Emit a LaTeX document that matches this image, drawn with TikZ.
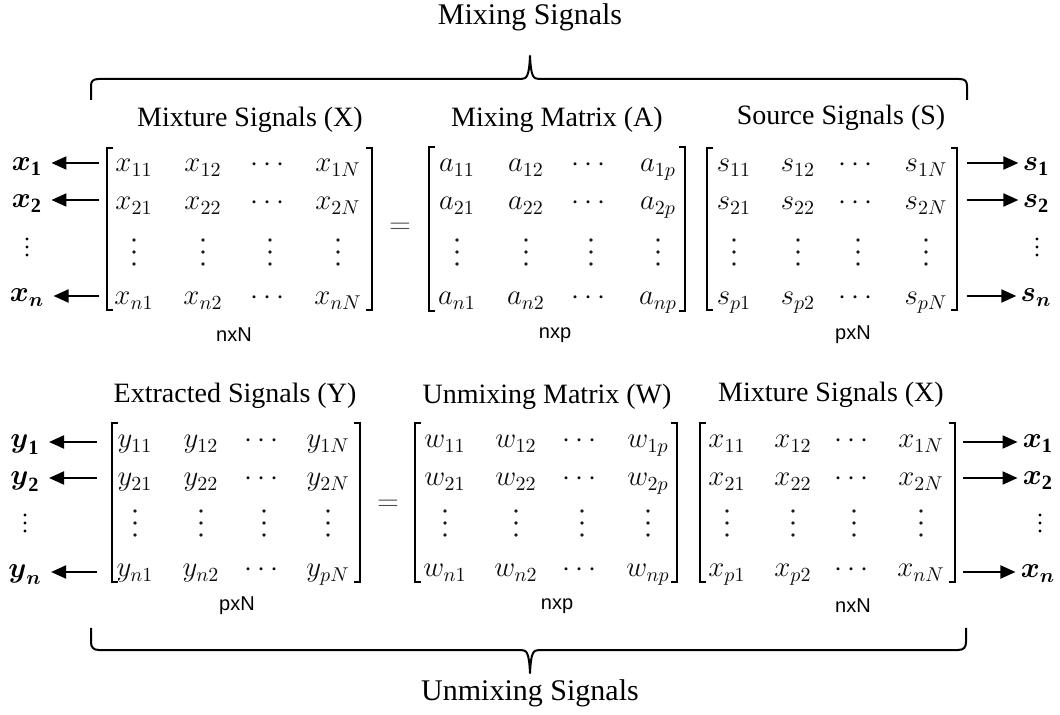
\documentclass[tikz,border=0pt]{standalone}
\usepackage{amsmath}
\usepackage{fontspec}
\setmainfont{Liberation Serif}
\newfontfamily\dimfont{Liberation Sans}
\usetikzlibrary{arrows.meta}

\tikzset{
  heading/.style={font=\fontsize{15}{18}\selectfont, inner sep=0pt},
  mtitle/.style={font=\fontsize{14}{17}\selectfont, inner sep=0pt},
  ent/.style={font=\fontsize{14}{17}\selectfont, text=black!95, inner sep=0pt, anchor=base},
  dimlbl/.style={font=\dimfont\fontsize{10}{12}\selectfont, inner sep=0pt},
  sig/.style={font=\fontsize{14.5}{17}\selectfont, inner xsep=0pt, inner ysep=0pt, anchor=base},
  brk/.style={line width=0.8pt},
  brace/.style={line width=1pt, line join=round},
  arr/.style={line width=1pt, -{Triangle[length=7.5pt,width=6.5pt]}},
  eqsign/.style={font=\fontsize{14}{17}\selectfont, text=black!70, inner sep=0pt},
  % vertical ellipsis inside the matrices
  vdts/.pic={\fill[black!90] (0,-12) circle[radius=0.9pt] (0,0) circle[radius=0.9pt] (0,12) circle[radius=0.9pt];},
  % smaller vertical ellipsis beside the signal labels
  vdtsside/.pic={\fill (0,-8) circle[radius=0.8pt] (0,0) circle[radius=0.8pt] (0,8) circle[radius=0.8pt];}
}

\begin{document}
\begin{tikzpicture}[x=0.5pt, y=-0.5pt]
\useasboundingbox (0,0) rectangle (1060,715);

% ---------- top: mixing ----------
\node[heading] (mixT) at (530,17) {Mixing Signals};
\draw[brace] (91,100) -- (91,86) .. controls (91,81) and (93,79) .. (99,79)
  -- (521,79) .. controls (527,79) and (529,76) .. (530,56)
  .. controls (531,76) and (533,79) .. (539,79)
  -- (959,79) .. controls (965,79) and (967,81) .. (967,86) -- (967,100);

% matrix X (mixtures)
\node[mtitle] (tX) at (250,120) {Mixture Signals (X)};
\draw[brk] (113,148) -- (107,148) -- (107,310) -- (113,310);
\draw[brk] (366,148) -- (372,148) -- (372,310) -- (366,310);
\foreach \c/\e [count=\j] in {134/x_{11},203/x_{12},270/\cdots,338/x_{1N}}
  \node[ent] (X-1-\j) at (\c,172) {$\e$};
\foreach \c/\e [count=\j] in {134/x_{21},203/x_{22},270/\cdots,338/x_{2N}}
  \node[ent] (X-2-\j) at (\c,210) {$\e$};
\foreach \c [count=\j] in {134,203,270,338}
  \pic (X-3-\j) at (\c,252) {vdts};
\foreach \c/\e [count=\j] in {134/x_{n1},203/x_{n2},270/\cdots,338/x_{nN}}
  \node[ent] (X-4-\j) at (\c,305) {$\e$};
\node[dimlbl] (dX) at (234,335) {nxN};

\node[sig] (lx1) at (27,171) {$\boldsymbol{x}_{\mathbf{1}}$};
\node[sig] (lx2) at (27,208) {$\boldsymbol{x}_{\mathbf{2}}$};
\pic (lxd) at (27,247) {vdtsside};
\node[sig] (lxn) at (27,302) {$\boldsymbol{x}_{\boldsymbol{n}}$};
\coordinate (ax1) at (99,163);
\coordinate (ax2) at (99,200);
\coordinate (axn) at (99,296);
\draw[arr] (ax1) -- ([xshift=4.5pt]ax1 -| lx1.east);
\draw[arr] (ax2) -- ([xshift=4.5pt]ax2 -| lx2.east);
\draw[arr] (axn) -- ([xshift=4.5pt]axn -| lxn.east);

\node[eqsign] (eq1) at (400,228) {$=$};

% matrix A (mixing)
\node[mtitle] (tA) at (557,120) {Mixing Matrix (A)};
\draw[brk] (435,147) -- (429,147) -- (429,311) -- (435,311);
\draw[brk] (679,147) -- (685,147) -- (685,311) -- (679,311);
\foreach \c/\e [count=\j] in {457/a_{11},526/a_{12},591/\cdots,658/a_{1p}}
  \node[ent] (A-1-\j) at (\c,172) {$\e$};
\foreach \c/\e [count=\j] in {457/a_{21},526/a_{22},591/\cdots,658/a_{2p}}
  \node[ent] (A-2-\j) at (\c,210) {$\e$};
\foreach \c [count=\j] in {457,526,591,658}
  \pic (A-3-\j) at (\c,252) {vdts};
\foreach \c/\e [count=\j] in {457/a_{n1},526/a_{n2},591/\cdots,658/a_{np}}
  \node[ent] (A-4-\j) at (\c,305) {$\e$};
\node[dimlbl] (dA) at (555,335) {nxp};

% matrix S (sources)
\node[mtitle] (tS) at (841,118) {Source Signals (S)};
\draw[brk] (713,148) -- (707,148) -- (707,310) -- (713,310);
\draw[brk] (951,148) -- (957,148) -- (957,310) -- (951,310);
\foreach \c/\e [count=\j] in {734/s_{11},798/s_{12},858/\cdots,926/s_{1N}}
  \node[ent] (S-1-\j) at (\c,172) {$\e$};
\foreach \c/\e [count=\j] in {734/s_{21},798/s_{22},858/\cdots,926/s_{2N}}
  \node[ent] (S-2-\j) at (\c,210) {$\e$};
\foreach \c [count=\j] in {734,798,858,926}
  \pic (S-3-\j) at (\c,252) {vdts};
\foreach \c/\e [count=\j] in {734/s_{p1},798/s_{p2},858/\cdots,926/s_{pN}}
  \node[ent] (S-4-\j) at (\c,305) {$\e$};
\node[dimlbl] (dS) at (853,335) {pxN};

\node[sig] (ls1) at (1036,171) {$\boldsymbol{s}_{\mathbf{1}}$};
\node[sig] (ls2) at (1036,208) {$\boldsymbol{s}_{\mathbf{2}}$};
\pic (lsd) at (1037,247) {vdtsside};
\node[sig] (lsn) at (1036,302) {$\boldsymbol{s}_{\boldsymbol{n}}$};
\coordinate (as1) at (967,163);
\coordinate (as2) at (967,200);
\coordinate (asn) at (967,296);
\draw[arr] (as1) -- ([xshift=-2pt]as1 -| ls1.west);
\draw[arr] (as2) -- ([xshift=-2pt]as2 -| ls2.west);
\draw[arr] (asn) -- ([xshift=-2pt]asn -| lsn.west);

% ---------- bottom: unmixing ----------
% matrix Y (extracted)
\node[mtitle] (tY) at (235,396) {Extracted Signals (Y)};
\draw[brk] (118,423) -- (112,423) -- (112,582) -- (118,582);
\draw[brk] (354,423) -- (360,423) -- (360,582) -- (354,582);
\foreach \c/\e [count=\j] in {135/y_{11},201/y_{12},264/\cdots,328/y_{1N}}
  \node[ent] (Y-1-\j) at (\c,448) {$\e$};
\foreach \c/\e [count=\j] in {135/y_{21},201/y_{22},264/\cdots,328/y_{2N}}
  \node[ent] (Y-2-\j) at (\c,486) {$\e$};
\foreach \c [count=\j] in {135,201,264,328}
  \pic (Y-3-\j) at (\c,523) {vdts};
\foreach \c/\e [count=\j] in {135/y_{n1},201/y_{n2},264/\cdots,328/y_{pN}}
  \node[ent] (Y-4-\j) at (\c,577) {$\e$};
\node[dimlbl] (dY) at (237,606) {pxN};

\node[sig] (ly1) at (25,448) {$\boldsymbol{y}_{\mathbf{1}}$};
\node[sig] (ly2) at (25,485) {$\boldsymbol{y}_{\mathbf{2}}$};
\pic (lyd) at (25,523) {vdtsside};
\node[sig] (lyn) at (25,578) {$\boldsymbol{y}_{\boldsymbol{n}}$};
\coordinate (ay1) at (97,442);
\coordinate (ay2) at (97,478);
\coordinate (ayn) at (97,572);
\draw[arr] (ay1) -- ([xshift=4.5pt]ay1 -| ly1.east);
\draw[arr] (ay2) -- ([xshift=4.5pt]ay2 -| ly2.east);
\draw[arr] (ayn) -- ([xshift=4.5pt]ayn -| lyn.east);

\node[eqsign] (eq2) at (388,505) {$=$};

% matrix W (unmixing)
\node[mtitle] (tW) at (547,397) {Unmixing Matrix (W)};
\draw[brk] (421,423) -- (415,423) -- (415,582) -- (421,582);
\draw[brk] (671,423) -- (677,423) -- (677,582) -- (671,582);
\foreach \c/\e [count=\j] in {445/w_{11},516/w_{12},582/\cdots,648/w_{1p}}
  \node[ent] (W-1-\j) at (\c,448) {$\e$};
\foreach \c/\e [count=\j] in {445/w_{21},516/w_{22},582/\cdots,648/w_{2p}}
  \node[ent] (W-2-\j) at (\c,486) {$\e$};
\foreach \c [count=\j] in {445,516,582,648}
  \pic (W-3-\j) at (\c,523) {vdts};
\foreach \c/\e [count=\j] in {445/w_{n1},516/w_{n2},582/\cdots,648/w_{np}}
  \node[ent] (W-4-\j) at (\c,577) {$\e$};
\node[dimlbl] (dW) at (557,606) {nxp};

% matrix X (mixtures, as input)
\node[mtitle] (tX2) at (831,395) {Mixture Signals (X)};
\draw[brk] (706,423) -- (700,423) -- (700,582) -- (706,582);
\draw[brk] (949,423) -- (955,423) -- (955,582) -- (949,582);
\foreach \c/\e [count=\j] in {727/x_{11},793/x_{12},854/\cdots,921/x_{1N}}
  \node[ent] (Z-1-\j) at (\c,448) {$\e$};
\foreach \c/\e [count=\j] in {727/x_{21},793/x_{22},854/\cdots,921/x_{2N}}
  \node[ent] (Z-2-\j) at (\c,486) {$\e$};
\foreach \c [count=\j] in {727,793,854,921}
  \pic (Z-3-\j) at (\c,523) {vdts};
\foreach \c/\e [count=\j] in {727/x_{p1},793/x_{p2},854/\cdots,921/x_{nN}}
  \node[ent] (Z-4-\j) at (\c,577) {$\e$};
\node[dimlbl] (dZ) at (853,606) {nxN};

\node[sig] (lz1) at (1038,448) {$\boldsymbol{x}_{\mathbf{1}}$};
\node[sig] (lz2) at (1038,485) {$\boldsymbol{x}_{\mathbf{2}}$};
\pic (lzd) at (1040,523) {vdtsside};
\node[sig] (lzn) at (1038,578) {$\boldsymbol{x}_{\boldsymbol{n}}$};
\coordinate (az1) at (963,442);
\coordinate (az2) at (963,478);
\coordinate (azn) at (963,572);
\draw[arr] (az1) -- ([xshift=-2.5pt]az1 -| lz1.west);
\draw[arr] (az2) -- ([xshift=-2.5pt]az2 -| lz2.west);
\draw[arr] (azn) -- ([xshift=-2.5pt]azn -| lzn.west);

\draw[brace] (91,628) -- (91,642) .. controls (91,647) and (93,650) .. (99,650)
  -- (521,650) .. controls (527,650) and (529,653) .. (530,673)
  .. controls (531,653) and (533,650) .. (539,650)
  -- (958,650) .. controls (964,650) and (966,647) .. (966,642) -- (966,628);
\node[heading] (unT) at (530,693) {Unmixing Signals};
\end{tikzpicture}
\end{document}
